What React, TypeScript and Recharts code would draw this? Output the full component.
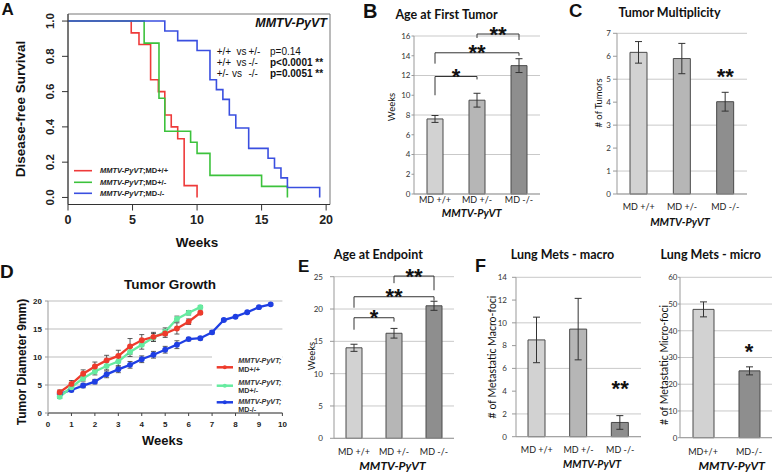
import React from "react";
import {
  LineChart,
  Line,
  BarChart,
  Bar,
  Cell,
  XAxis,
  YAxis,
  CartesianGrid,
  ErrorBar,
  ReferenceLine,
  ReferenceArea,
  ReferenceDot,
} from "recharts";

const ARIAL = "'Liberation Sans', Arial, sans-serif";
const EXCEL = "Lato, 'Liberation Sans', sans-serif";

// ---- A: disease-free survival (Kaplan-Meier steps)
const kmWeeksWT = [0, 4.9, 5.5, 6.4, 7, 7.5, 8, 8.5, 9, 10];
const kmSurvWT = [1, 0.933, 0.867, 0.667, 0.6, 0.467, 0.4, 0.333, 0.067, 0];
const kmWeeksHet = [0, 5.9, 7.05, 7.5, 9.5, 10, 11, 15, 17];
const kmSurvHet = [1, 0.875, 0.5625, 0.375, 0.3125, 0.25, 0.125, 0.0625, 0];
const kmWeeksKO = [0, 7.5, 8.5, 10, 11, 11.5, 12, 12.5, 13, 14, 15.5, 16, 16.5, 17, 19.5];
const kmSurvKO = [1, 0.944, 0.889, 0.833, 0.667, 0.611, 0.556, 0.467, 0.394, 0.278, 0.222, 0.167, 0.111, 0.056, 0];
const survTicks = [0, 0.2, 0.4, 0.6, 0.8, 1.0];
const weekTicksA = [0, 5, 10, 15, 20];

// ---- B: age at first tumor
const genotypes = ["MD +/+", "MD +/-", "MD -/-"];
const firstTumor = [7.6, 9.5, 13.0];
const firstTumorErr = [0.35, 0.7, 0.7];
const ticksB = [0, 2, 4, 6, 8, 10, 12, 14, 16];

// ---- C: tumor multiplicity
const multiplicity = [6.17, 5.9, 4.02];
const multiplicityErr = [0.47, 0.66, 0.41];
const ticksC = [0, 1, 2, 3, 4, 5, 6, 7];

// ---- D: tumor growth
const growthWeeks = [0.5, 1, 1.5, 2, 2.5, 3, 3.5, 4, 4.5, 5, 5.5, 6, 6.5, 7, 7.5, 8, 8.5, 9, 9.5];
const growthWT = [3.7, 5.2, 7.0, 8.3, 9.4, 10.2, 11.9, 13.0, 13.6, 14.2, 15.1, 16.3, 17.9];
const growthWTErr = [0.4, 0.6, 0.7, 0.8, 0.9, 1.0, 1.4, 1.0, 0.8, 0.7, 1.0, 0.5, 0.3];
const growthHet = [2.9, 4.6, 6.2, 7.4, 8.4, 9.2, 10.9, 12.2, 13.5, 14.5, 16.8, 17.9, 18.9];
const growthHetErr = [0.3, 0.4, 0.5, 0.6, 0.7, 0.8, 0.8, 0.8, 0.7, 0.7, 0.5, 0.4, 0.3];
const growthKO = [3.4, 4.1, 4.9, 5.6, 6.9, 7.8, 8.6, 9.6, 10.4, 11.3, 12.2, 13.2, 13.35, 14.4, 16.6, 17.2, 18.0, 18.9, 19.4];
const growthKOErr = [0.3, 0.3, 0.4, 0.4, 0.6, 0.6, 0.6, 0.6, 0.6, 0.6, 0.7, 0.3, 0.3, 0.3, 0.2, 0.2, 0.2, 0.2, 0.2];
const growthWeekTicks = [0, 1, 2, 3, 4, 5, 6, 7, 8, 9, 10];
const growthTicks = [0, 5, 10, 15, 20];

// ---- E: age at endpoint
const endpoint = [14.0, 16.25, 20.5];
const endpointErr = [0.55, 0.75, 0.7];
const ticksE = [0, 5, 10, 15, 20, 25];

// ---- F: lung metastases
const macroFoci = [8.5, 9.45, 1.25];
const macroFociErr = [2.0, 2.7, 0.6];
const ticksMacro = [0, 2, 4, 6, 8, 10, 12, 14];
const microCats = ["MD+/+", "MD-/-"];
const microFoci = [48.0, 25.0];
const microFociErr = [2.8, 1.5];
const ticksMicro = [0, 10, 20, 30, 40, 50, 60];

type Bracket = { from: string; to: string; top: number; footL: number; footR: number; mark: string };

const bracketsB: Bracket[] = [
  { from: "MD +/+", to: "MD +/-", top: 11.9, footL: 10.0, footR: 11.6, mark: "*" },
  { from: "MD +/+", to: "MD -/-", top: 14.3, footL: 13.2, footR: 14.0, mark: "**" },
  { from: "MD +/-", to: "MD -/-", top: 16.2, footL: 15.8, footR: 15.6, mark: "**" },
];
const bracketsE: Bracket[] = [
  { from: "MD +/+", to: "MD +/-", top: 18.65, footL: 16.8, footR: 18.05, mark: "*" },
  { from: "MD +/+", to: "MD -/-", top: 21.9, footL: 20.2, footR: 21.3, mark: "**" },
  { from: "MD +/-", to: "MD -/-", top: 25.1, footL: 24.0, footR: 22.9, mark: "**" },
];

const RED_A = "#EE3A3A";
const GREEN_A = "#3CC23C";
const BLUE_A = "#3A4FE0";
const RED_D = "#EE3B2C";
const GREEN_D = "#66EBA0";
const BLUE_D = "#1F3FE3";
const GRAYS = ["#D2D2D2", "#B6B6B6", "#8E8E8E"];

const kmSeries = [
  { name: "MMTV-PyVT;MD+/+", color: RED_A, data: kmWeeksWT.map((w, i) => ({ week: w, surv: kmSurvWT[i] })) },
  { name: "MMTV-PyVT;MD+/-", color: GREEN_A, data: kmWeeksHet.map((w, i) => ({ week: w, surv: kmSurvHet[i] })) },
  { name: "MMTV-PyVT;MD-/-", color: BLUE_A, data: kmWeeksKO.map((w, i) => ({ week: w, surv: kmSurvKO[i] })) },
];

const growthTable = growthWeeks.map((w, i) => ({
  week: w,
  wt: growthWT[i],
  wtErr: growthWTErr[i],
  het: growthHet[i],
  hetErr: growthHetErr[i],
  ko: growthKO[i],
  koErr: growthKOErr[i],
}));

const starLabel = (mark: string, position: "top" | "center", offset = 0) => ({
  value: mark,
  position,
  offset,
  fontSize: 22,
  fontWeight: "bold",
  fill: "#111",
  fontFamily: ARIAL,
});

function bracketLines(b: Bracket, i: number) {
  const s = { stroke: "#333", strokeWidth: 1, ifOverflow: "visible" as const };
  return [
    <ReferenceLine key={`l${i}`} segment={[{ x: b.from, y: b.footL }, { x: b.from, y: b.top }]} {...s} />,
    <ReferenceLine key={`r${i}`} segment={[{ x: b.to, y: b.footR }, { x: b.to, y: b.top }]} {...s} />,
    <ReferenceLine
      key={`t${i}`}
      segment={[{ x: b.from, y: b.top }, { x: b.to, y: b.top }]}
      {...s}
      label={starLabel(b.mark, "top", -7.5)}
    />,
  ];
}

const RotTick = (props: any) => {
  const { x, y, payload } = props;
  return (
    <text
      x={x}
      y={y}
      dy="0.36em"
      transform={`rotate(-90 ${x} ${y})`}
      textAnchor="middle"
      fontSize={11.5}
      fontWeight="bold"
      fill="#222"
      fontFamily={ARIAL}
    >
      {Number(payload.value).toFixed(1)}
    </text>
  );
};

type Box = { x: number; y: number; w: number; h: number };
type Plot = { l: number; t: number; r: number; b: number };

function BarPanel(props: {
  chart: Box;
  plot: Plot;
  cats: string[];
  vals: number[];
  errs: number[];
  fills: string[];
  yTicks: number[];
  barSize: number;
  tickSize: number;
  yTickGap: number;
  xTickGap: number;
  children?: React.ReactNode;
}) {
  const { chart, plot } = props;
  const rows = props.cats.map((c, i) => ({ cat: c, v: props.vals[i], e: props.errs[i] }));
  const yMax = props.yTicks[props.yTicks.length - 1];
  return (
    <div style={{ position: "absolute", left: chart.x, top: chart.y }}>
      <BarChart
        width={chart.w}
        height={chart.h}
        data={rows}
        margin={{ top: plot.t - chart.y, right: chart.x + chart.w - plot.r, bottom: 0, left: 0 }}
      >
        <CartesianGrid vertical={false} stroke="#C9C9C9" />
        <XAxis
          dataKey="cat"
          height={chart.y + chart.h - plot.b}
          axisLine={{ stroke: "#999" }}
          tickLine={false}
          tickSize={0}
          tickMargin={props.xTickGap}
          interval={0}
          tick={{ fontSize: 9, fill: "#1a1a1a", fontFamily: EXCEL }}
        />
        <YAxis
          domain={[0, yMax]}
          ticks={props.yTicks}
          width={plot.l - chart.x}
          axisLine={{ stroke: "#999" }}
          tickLine={{ stroke: "#999" }}
          tickSize={props.tickSize}
          tickMargin={props.yTickGap}
          tick={{ fontSize: 8, fill: "#333", fontFamily: EXCEL }}
        />
        <Bar dataKey="v" barSize={props.barSize} stroke="#4a4a4a" strokeWidth={1} isAnimationActive={false}>
          {rows.map((r, i) => (
            <Cell key={r.cat} fill={props.fills[i]} />
          ))}
          <ErrorBar dataKey="e" width={3.5} stroke="#333" strokeWidth={1} direction="y" />
        </Bar>
        {props.children}
      </BarChart>
    </div>
  );
}

// text centred on (x, y)
function T(p: {
  x: number;
  y: number;
  s: number;
  f?: string;
  w?: string;
  it?: boolean;
  a?: "start" | "middle" | "end";
  c?: string;
  children: React.ReactNode;
}) {
  return (
    <text
      x={p.x}
      y={p.y + p.s * 0.36}
      fontSize={p.s}
      fontFamily={p.f ?? EXCEL}
      fontWeight={p.w ?? "bold"}
      fontStyle={p.it ? "italic" : "normal"}
      textAnchor={p.a ?? "middle"}
      fill={p.c ?? "#111"}
    >
      {p.children}
    </text>
  );
}

// vertical text centred on (x, y)
function VT(p: { x: number; y: number; s: number; f?: string; w?: string; children: React.ReactNode }) {
  return (
    <text
      x={p.x}
      y={p.y}
      dy="0.36em"
      transform={`rotate(-90 ${p.x} ${p.y})`}
      fontSize={p.s}
      fontFamily={p.f ?? EXCEL}
      fontWeight={p.w ?? "normal"}
      textAnchor="middle"
      fill="#111"
    >
      {p.children}
    </text>
  );
}

function Overlay() {
  const legendA = [170.7, 182.3, 193.3];
  const legendD = [
    { y: 367.3, t1: 360.7, t2: 369.3, label: "MD+/+", color: RED_D },
    { y: 385.7, t1: 382.5, t2: 390.7, label: "MD+/-", color: GREEN_D },
    { y: 402.3, t1: 401.5, t2: 409.8, label: "MD-/-", color: BLUE_D },
  ];
  return (
    <svg width={778} height={474} style={{ position: "absolute", left: 0, top: 0, pointerEvents: "none" }}>
      {/* A */}
      <T x={1.5} y={8.9} s={17} f={ARIAL} a="start">A</T>
      <T x={327} y={22.5} s={12.5} f={ARIAL} it a="end">MMTV-PyVT</T>
      {[
        ["+/+", 236.5, "+/-", "p=0.14", "normal"],
        ["+/+", 236.5, "-/-", "p<0.0001 **", "bold"],
        ["+/-", 232, "-/-", "p=0.0051 **", "bold"],
      ].map((r, i) => {
        const y = 51.7 + i * 10.8;
        return (
          <g key={i}>
            <T x={216.7} y={y} s={10} f={ARIAL} w="normal" a="start">{r[0] as string}</T>
            <T x={r[1] as number} y={y} s={10} f={ARIAL} w="normal" a="start">vs</T>
            <T x={248.5} y={y} s={10} f={ARIAL} w="normal" a="start">{r[2] as string}</T>
            <T x={270} y={y} s={10} f={ARIAL} w={r[4] as string} a="start">{r[3] as string}</T>
          </g>
        );
      })}
      {kmSeries.map((s, i) => (
        <g key={s.name}>
          <line x1={74} x2={92} y1={legendA[i]} y2={legendA[i]} stroke={s.color} strokeWidth={1.6} />
          <text x={100} y={legendA[i] + 2.7} fontSize={7.5} fontFamily={ARIAL} fontWeight="bold" fill="#222">
            <tspan fontStyle="italic">MMTV-PyVT</tspan>
            {s.name.slice(9)}
          </text>
        </g>
      ))}
      <VT x={20} y={109} s={13.5} f={ARIAL} w="bold">Disease-free Survival</VT>
      <T x={197} y={242.3} s={13.5} f={ARIAL}>Weeks</T>

      {/* B */}
      <T x={363} y={10.8} s={20} f={ARIAL} a="start">B</T>
      <T x={446.5} y={14.5} s={12.5}>Age at First Tumor</T>
      <VT x={392} y={107} s={9.5}>Weeks</VT>
      <T x={471.7} y={212.8} s={10.8} it>MMTV-PyVT</T>

      {/* C */}
      <T x={569} y={10} s={18.5} f={ARIAL} a="start">C</T>
      <T x={669.5} y={12.5} s={12.5}>Tumor Multiplicity</T>
      <VT x={599} y={103} s={9.5}>{"# of Tumors"}</VT>
      <T x={680} y={222.2} s={10.8} it>MMTV-PyVT</T>

      {/* D */}
      <T x={0} y={271.5} s={19} f={ARIAL} a="start">D</T>
      <T x={170} y={284.5} s={13.5} f={ARIAL}>Tumor Growth</T>
      <VT x={21.7} y={362} s={12} f={ARIAL} w="bold">Tumor Diameter 9mm)</VT>
      <T x={162.5} y={440.2} s={13} f={ARIAL}>Weeks</T>
      <rect x={212} y={355} width={70} height={56} fill="#fff" />
      {legendD.map((d) => (
        <g key={d.label}>
          <line x1={216.7} x2={233} y1={d.y} y2={d.y} stroke={d.color} strokeWidth={2.5} />
          <circle cx={224.8} cy={d.y} r={2} fill={d.color} />
          <text x={238.3} y={d.t1 + 2.5} fontSize={7.2} fontFamily={ARIAL} fontWeight="bold" fontStyle="italic" fill="#333">
            MMTV-PyVT;
          </text>
          <text x={238.3} y={d.t2 + 2.5} fontSize={7.2} fontFamily={ARIAL} fontWeight="bold" fill="#333">
            {d.label}
          </text>
        </g>
      ))}

      {/* E */}
      <T x={298} y={266} s={17} f={ARIAL} a="start">E</T>
      <T x={378.3} y={254} s={12.5}>Age at Endpoint</T>
      <VT x={311.7} y={356} s={9.5}>Weeks</VT>
      <T x={392.5} y={466} s={12} it>MMTV-PyVT</T>

      {/* F */}
      <T x={475} y={265.5} s={18} f={ARIAL} a="start">F</T>
      <T x={562.5} y={254} s={12.5}>Lung Mets - macro</T>
      <T x={710.8} y={254} s={12.5}>Lung Mets - micro</T>
      <VT x={492.5} y={357} s={10.5}>{"# of  Metastatic Macro-foci"}</VT>
      <VT x={664.5} y={365} s={10.5}>{"# of Metastatic Micro-foci"}</VT>
      <T x={592} y={464.5} s={10.5} it>MMTV-PyVT</T>
      <T x={731.7} y={466} s={12} it>MMTV-PyVT</T>
    </svg>
  );
}

function SurvivalPanel() {
  return (
    <div style={{ position: "absolute", left: 0, top: 0 }}>
      <LineChart width={340} height={250} margin={{ top: 14, right: 10, bottom: 0, left: 0 }}>
        <XAxis
          type="number"
          dataKey="week"
          domain={[0, 20.3]}
          ticks={weekTicksA}
          allowDataOverflow
          height={45.5}
          axisLine={{ stroke: "#333" }}
          tickLine={{ stroke: "#333" }}
          tickSize={6}
          tickMargin={5}
          tick={{ fontSize: 12.5, fontWeight: "bold", fill: "#222", fontFamily: ARIAL }}
        />
        <YAxis
          type="number"
          domain={[-0.04, 1.04]}
          ticks={survTicks}
          allowDataOverflow
          width={68}
          axisLine={{ stroke: "#333" }}
          tickLine={{ stroke: "#333" }}
          tickSize={6}
          tickMargin={12}
          tick={RotTick}
        />
        <ReferenceArea x1={0} x2={20.3} y1={-0.04} y2={1.04} fill="none" stroke="#777" ifOverflow="visible" />
        {kmSeries.map((s) => (
          <Line
            key={s.name}
            data={s.data}
            dataKey="surv"
            type="stepAfter"
            stroke={s.color}
            strokeWidth={1.6}
            dot={false}
            isAnimationActive={false}
          />
        ))}
      </LineChart>
    </div>
  );
}

function GrowthPanel() {
  const tick = { fontSize: 8, fontWeight: "bold", fill: "#222", fontFamily: ARIAL };
  const series = [
    { key: "ko", color: BLUE_D },
    { key: "het", color: GREEN_D },
    { key: "wt", color: RED_D },
  ];
  return (
    <div style={{ position: "absolute", left: 0, top: 280 }}>
      <LineChart width={290} height={150} data={growthTable} margin={{ top: 21, right: 7.6, bottom: 0, left: 0 }}>
        <CartesianGrid vertical={false} stroke="#BDBDBD" />
        <XAxis
          type="number"
          dataKey="week"
          domain={[0, 10]}
          ticks={growthWeekTicks}
          height={17}
          axisLine={{ stroke: "#444" }}
          tickLine={{ stroke: "#444" }}
          tickSize={3}
          tickMargin={5}
          tick={tick}
        />
        <YAxis
          domain={[0, 20]}
          ticks={growthTicks}
          width={48}
          axisLine={{ stroke: "#999" }}
          tickLine={{ stroke: "#999" }}
          tickSize={3}
          tickMargin={3}
          tick={tick}
        />
        {series.map((s) => (
          <Line
            key={s.key}
            dataKey={s.key}
            stroke={s.color}
            strokeWidth={2.3}
            dot={{ r: 1.8, fill: s.color, stroke: s.color }}
            isAnimationActive={false}
          >
            <ErrorBar dataKey={`${s.key}Err`} width={2.5} stroke="#333" strokeWidth={0.8} direction="y" />
          </Line>
        ))}
      </LineChart>
    </div>
  );
}

export default function App() {
  return (
    <div
      style={{
        position: "absolute",
        left: 0,
        top: 0,
        width: 778,
        height: 474,
        background: "#fff",
        overflow: "hidden",
      }}
    >
      <style>{`.recharts-surface{overflow:visible}`}</style>
      <SurvivalPanel />
      <BarPanel
        chart={{ x: 380, y: 20, w: 165, h: 210 }}
        plot={{ l: 414, t: 36, r: 540, b: 194 }}
        cats={genotypes}
        vals={firstTumor}
        errs={firstTumorErr}
        fills={GRAYS}
        yTicks={ticksB}
        barSize={16}
        tickSize={2.5}
        yTickGap={1}
        xTickGap={2.6}
      >
        {bracketsB.flatMap(bracketLines)}
      </BarPanel>
      <BarPanel
        chart={{ x: 575, y: 20, w: 177, h: 210 }}
        plot={{ l: 617, t: 33.3, r: 747, b: 194 }}
        cats={genotypes}
        vals={multiplicity}
        errs={multiplicityErr}
        fills={GRAYS}
        yTicks={ticksC}
        barSize={17}
        tickSize={4}
        yTickGap={2}
        xTickGap={9.3}
      >
        <ReferenceDot x="MD -/-" y={5.12} r={0} label={starLabel("**", "center")} />
      </BarPanel>
      <GrowthPanel />
      <BarPanel
        chart={{ x: 290, y: 262, w: 168, h: 195 }}
        plot={{ l: 334, t: 276.7, r: 454, b: 438.3 }}
        cats={genotypes}
        vals={endpoint}
        errs={endpointErr}
        fills={GRAYS}
        yTicks={ticksE}
        barSize={16}
        tickSize={4}
        yTickGap={7}
        xTickGap={10.5}
      >
        {bracketsE.flatMap(bracketLines)}
      </BarPanel>
      <BarPanel
        chart={{ x: 470, y: 262, w: 175, h: 195 }}
        plot={{ l: 516, t: 277.3, r: 641, b: 436.7 }}
        cats={genotypes}
        vals={macroFoci}
        errs={macroFociErr}
        fills={GRAYS}
        yTicks={ticksMacro}
        barSize={17}
        tickSize={4}
        yTickGap={5}
        xTickGap={10}
      >
        <ReferenceDot x="MD -/-" y={4.28} r={0} label={starLabel("**", "center")} />
      </BarPanel>
      <BarPanel
        chart={{ x: 640, y: 262, w: 136, h: 195 }}
        plot={{ l: 680, t: 277.3, r: 772, b: 437.7 }}
        cats={microCats}
        vals={microFoci}
        errs={microFociErr}
        fills={[GRAYS[0], GRAYS[2]]}
        yTicks={ticksMicro}
        barSize={21}
        tickSize={2}
        yTickGap={0.5}
        xTickGap={10.6}
      >
        <ReferenceDot x="MD-/-" y={32.5} r={0} label={starLabel("*", "center")} />
      </BarPanel>
      <Overlay />
    </div>
  );
}
